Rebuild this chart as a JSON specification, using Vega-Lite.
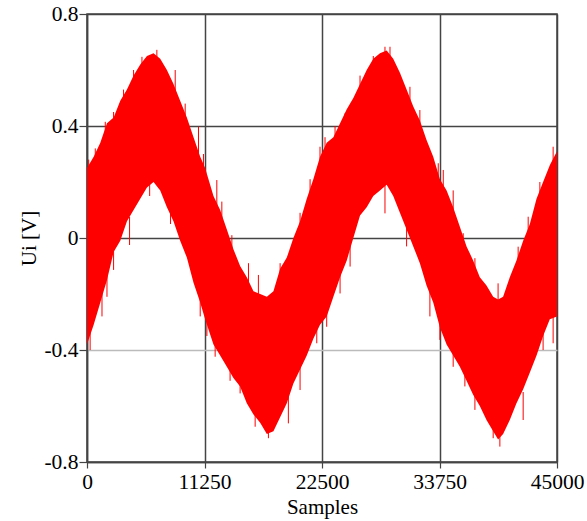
{
  "$schema": "https://vega.github.io/schema/vega-lite/v6.json",
  "width": 470,
  "height": 448,
  "autosize": "none",
  "padding": {"left": 87, "top": 14, "right": 30, "bottom": 59},
  "background": "white",
  "config": {
    "view": {"stroke": "#444444", "strokeWidth": 1.5},
    "font": "Liberation Serif",
    "axis": {
      "labelFont": "Liberation Serif",
      "titleFont": "Liberation Serif",
      "labelFontSize": 21.5,
      "titleFontSize": 21,
      "titleFontWeight": "normal",
      "labelColor": "black",
      "titleColor": "black",
      "domainColor": "#444444",
      "domainWidth": 1.5,
      "tickColor": "#444444",
      "tickWidth": 1.2,
      "gridWidth": 1.5
    }
  },
  "datasets": {
    "band": [
      {"x": 0, "hi": 0.25, "lo": -0.38},
      {"x": 640, "hi": 0.29, "lo": -0.31},
      {"x": 1275, "hi": 0.34, "lo": -0.23},
      {"x": 1913, "hi": 0.41, "lo": -0.15},
      {"x": 2550, "hi": 0.43, "lo": -0.05},
      {"x": 3185, "hi": 0.49, "lo": -0.01},
      {"x": 3825, "hi": 0.53, "lo": 0.06},
      {"x": 4460, "hi": 0.58, "lo": 0.10},
      {"x": 5100, "hi": 0.62, "lo": 0.14},
      {"x": 5740, "hi": 0.65, "lo": 0.18},
      {"x": 6370, "hi": 0.66, "lo": 0.20},
      {"x": 7010, "hi": 0.64, "lo": 0.17},
      {"x": 7650, "hi": 0.60, "lo": 0.11},
      {"x": 8280, "hi": 0.55, "lo": 0.06},
      {"x": 8920, "hi": 0.49, "lo": -0.01},
      {"x": 9560, "hi": 0.43, "lo": -0.07},
      {"x": 10200, "hi": 0.36, "lo": -0.16},
      {"x": 10840, "hi": 0.29, "lo": -0.23},
      {"x": 11310, "hi": 0.25, "lo": -0.29},
      {"x": 12110, "hi": 0.15, "lo": -0.38},
      {"x": 12750, "hi": 0.10, "lo": -0.42},
      {"x": 13390, "hi": 0.03, "lo": -0.46},
      {"x": 14020, "hi": -0.04, "lo": -0.50},
      {"x": 14660, "hi": -0.10, "lo": -0.53},
      {"x": 15300, "hi": -0.14, "lo": -0.59},
      {"x": 15940, "hi": -0.19, "lo": -0.63},
      {"x": 16580, "hi": -0.20, "lo": -0.66},
      {"x": 17220, "hi": -0.21, "lo": -0.70},
      {"x": 17850, "hi": -0.19, "lo": -0.69},
      {"x": 18490, "hi": -0.11, "lo": -0.64},
      {"x": 19130, "hi": -0.07, "lo": -0.59},
      {"x": 19760, "hi": 0.00, "lo": -0.52},
      {"x": 20400, "hi": 0.06, "lo": -0.47},
      {"x": 21040, "hi": 0.14, "lo": -0.42},
      {"x": 21670, "hi": 0.21, "lo": -0.36},
      {"x": 22310, "hi": 0.29, "lo": -0.31},
      {"x": 22950, "hi": 0.34, "lo": -0.28},
      {"x": 23590, "hi": 0.36, "lo": -0.21},
      {"x": 24230, "hi": 0.41, "lo": -0.14},
      {"x": 24870, "hi": 0.46, "lo": -0.08},
      {"x": 25500, "hi": 0.50, "lo": 0.00},
      {"x": 26140, "hi": 0.55, "lo": 0.08},
      {"x": 26780, "hi": 0.60, "lo": 0.11},
      {"x": 27410, "hi": 0.64, "lo": 0.15},
      {"x": 28050, "hi": 0.66, "lo": 0.17},
      {"x": 28690, "hi": 0.67, "lo": 0.19},
      {"x": 29320, "hi": 0.64, "lo": 0.15},
      {"x": 29960, "hi": 0.59, "lo": 0.09},
      {"x": 30600, "hi": 0.53, "lo": 0.03},
      {"x": 31240, "hi": 0.47, "lo": -0.03},
      {"x": 31870, "hi": 0.42, "lo": -0.09},
      {"x": 32510, "hi": 0.35, "lo": -0.17},
      {"x": 33150, "hi": 0.29, "lo": -0.23},
      {"x": 33790, "hi": 0.21, "lo": -0.32},
      {"x": 34430, "hi": 0.17, "lo": -0.38},
      {"x": 35060, "hi": 0.11, "lo": -0.42},
      {"x": 35700, "hi": 0.04, "lo": -0.46},
      {"x": 36340, "hi": -0.03, "lo": -0.51},
      {"x": 36970, "hi": -0.08, "lo": -0.56},
      {"x": 37610, "hi": -0.14, "lo": -0.60},
      {"x": 38250, "hi": -0.17, "lo": -0.65},
      {"x": 38890, "hi": -0.21, "lo": -0.69},
      {"x": 39360, "hi": -0.22, "lo": -0.72},
      {"x": 39840, "hi": -0.21, "lo": -0.70},
      {"x": 40480, "hi": -0.14, "lo": -0.65},
      {"x": 41120, "hi": -0.08, "lo": -0.59},
      {"x": 41760, "hi": -0.01, "lo": -0.54},
      {"x": 42400, "hi": 0.05, "lo": -0.48},
      {"x": 43040, "hi": 0.14, "lo": -0.42},
      {"x": 43670, "hi": 0.20, "lo": -0.35},
      {"x": 44310, "hi": 0.26, "lo": -0.29},
      {"x": 45000, "hi": 0.31, "lo": -0.28}
    ],
    "spikes": [
      {"x": 160, "hi": 0.28, "lo": 0.18},
      {"x": 794, "hi": 0.32, "lo": 0.22},
      {"x": 1750, "hi": 0.415, "lo": 0.315},
      {"x": 2545, "hi": 0.45, "lo": 0.35},
      {"x": 3500, "hi": 0.53, "lo": 0.43},
      {"x": 4460, "hi": 0.60, "lo": 0.50},
      {"x": 5260, "hi": 0.647, "lo": 0.547},
      {"x": 6690, "hi": 0.672, "lo": 0.572},
      {"x": 8445, "hi": 0.60, "lo": 0.50},
      {"x": 9400, "hi": 0.48, "lo": 0.38},
      {"x": 10675, "hi": 0.398, "lo": 0.298},
      {"x": 11150, "hi": 0.30, "lo": 0.20},
      {"x": 12430, "hi": 0.207, "lo": 0.107},
      {"x": 12910, "hi": 0.13, "lo": 0.03},
      {"x": 13870, "hi": 0.01, "lo": -0.09},
      {"x": 15460, "hi": -0.09, "lo": -0.19},
      {"x": 16410, "hi": -0.132, "lo": -0.232},
      {"x": 18490, "hi": -0.09, "lo": -0.19},
      {"x": 20400, "hi": 0.09, "lo": -0.01},
      {"x": 21360, "hi": 0.21, "lo": 0.11},
      {"x": 22310, "hi": 0.326, "lo": 0.226},
      {"x": 22790, "hi": 0.36, "lo": 0.26},
      {"x": 23750, "hi": 0.40, "lo": 0.30},
      {"x": 24700, "hi": 0.445, "lo": 0.345},
      {"x": 26140, "hi": 0.58, "lo": 0.48},
      {"x": 27410, "hi": 0.65, "lo": 0.55},
      {"x": 28530, "hi": 0.683, "lo": 0.583},
      {"x": 29010, "hi": 0.683, "lo": 0.583},
      {"x": 30920, "hi": 0.54, "lo": 0.44},
      {"x": 31870, "hi": 0.457, "lo": 0.357},
      {"x": 33630, "hi": 0.267, "lo": 0.167},
      {"x": 34110, "hi": 0.243, "lo": 0.143},
      {"x": 35060, "hi": 0.17, "lo": 0.07},
      {"x": 36020, "hi": 0.017, "lo": -0.083},
      {"x": 37140, "hi": -0.072, "lo": -0.172},
      {"x": 39360, "hi": -0.162, "lo": -0.262},
      {"x": 41280, "hi": -0.031, "lo": -0.131},
      {"x": 42240, "hi": 0.076, "lo": -0.024},
      {"x": 43360, "hi": 0.20, "lo": 0.10},
      {"x": 44630, "hi": 0.326, "lo": 0.226},
      {"x": 300, "hi": -0.30, "lo": -0.40},
      {"x": 1435, "hi": -0.18, "lo": -0.28},
      {"x": 1913, "hi": -0.11, "lo": -0.21},
      {"x": 2545, "hi": -0.014, "lo": -0.114},
      {"x": 4075, "hi": 0.075, "lo": -0.025},
      {"x": 6000, "hi": 0.25, "lo": 0.15},
      {"x": 8000, "hi": 0.15, "lo": 0.05},
      {"x": 10840, "hi": -0.18, "lo": -0.28},
      {"x": 11480, "hi": -0.25, "lo": -0.35},
      {"x": 12270, "hi": -0.324, "lo": -0.424},
      {"x": 13700, "hi": -0.41, "lo": -0.51},
      {"x": 14660, "hi": -0.455, "lo": -0.555},
      {"x": 16100, "hi": -0.574, "lo": -0.674},
      {"x": 17370, "hi": -0.615, "lo": -0.715},
      {"x": 19280, "hi": -0.562, "lo": -0.662},
      {"x": 20400, "hi": -0.443, "lo": -0.543},
      {"x": 22000, "hi": -0.276, "lo": -0.376},
      {"x": 22950, "hi": -0.217, "lo": -0.317},
      {"x": 24230, "hi": -0.098, "lo": -0.198},
      {"x": 25190, "hi": -0.002, "lo": -0.102},
      {"x": 28530, "hi": 0.188, "lo": 0.088},
      {"x": 30600, "hi": 0.07, "lo": -0.03},
      {"x": 32830, "hi": -0.18, "lo": -0.28},
      {"x": 33790, "hi": -0.264, "lo": -0.364},
      {"x": 35060, "hi": -0.36, "lo": -0.46},
      {"x": 36180, "hi": -0.43, "lo": -0.53},
      {"x": 37140, "hi": -0.514, "lo": -0.614},
      {"x": 38890, "hi": -0.615, "lo": -0.715},
      {"x": 39530, "hi": -0.645, "lo": -0.745},
      {"x": 41760, "hi": -0.55, "lo": -0.65},
      {"x": 43670, "hi": -0.30, "lo": -0.40},
      {"x": 44630, "hi": -0.276, "lo": -0.376}
    ]
  },
  "encoding": {
    "x": {
      "field": "x",
      "type": "quantitative",
      "scale": {"domain": [0, 45000], "nice": false, "zero": false},
      "axis": {
        "title": "Samples",
        "values": [0, 11250, 22500, 33750, 45000],
        "labelExpr": "toString(datum.value)",
        "labelOverlap": false,
        "labelFlush": false,
        "tickSize": 6,
        "labelPadding": 3,
        "titlePadding": 4,
        "gridColor": "#444444"
      }
    },
    "y": {
      "field": "hi",
      "type": "quantitative",
      "scale": {"domain": [-0.8, 0.8], "nice": false, "zero": false},
      "axis": {
        "title": "Ui [V]",
        "values": [-0.8, -0.4, 0, 0.4, 0.8],
        "labelExpr": "toString(datum.value)",
        "labelOverlap": false,
        "labelFlush": false,
        "tickSize": 8,
        "labelPadding": 1,
        "titlePadding": 4,
        "gridColor": {"condition": {"test": "datum.value === -0.4", "value": "#bbbbbb"}, "value": "#444444"}
      }
    },
    "y2": {"field": "lo"}
  },
  "layer": [
    {
      "data": {"name": "band"},
      "mark": {"type": "area", "color": "#ff0000", "interpolate": "linear", "clip": true}
    },
    {
      "data": {"name": "spikes"},
      "mark": {"type": "rule", "color": "#ff0000", "strokeWidth": 1, "clip": true}
    }
  ]
}
